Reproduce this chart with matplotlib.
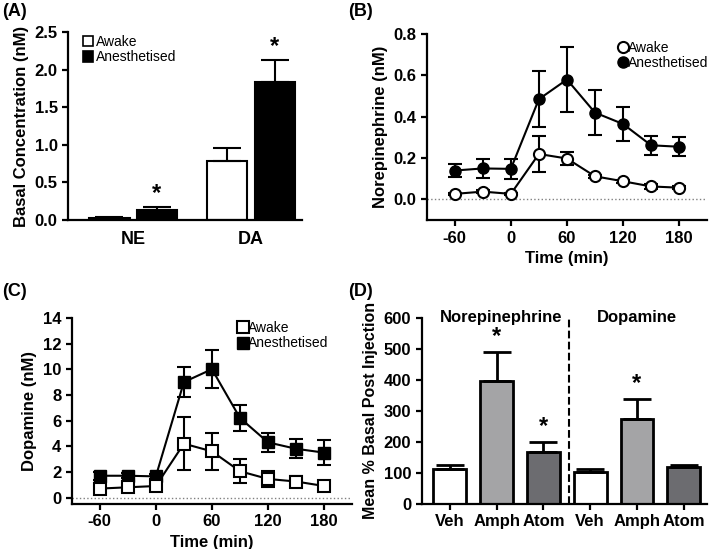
import numpy as np
import matplotlib.pyplot as plt
from matplotlib.lines import Line2D
from matplotlib.patches import Patch

plt.rcParams['font.family'] = ['Liberation Sans', 'DejaVu Sans']
plt.rcParams['font.weight'] = 'bold'
plt.rcParams['axes.labelweight'] = 'bold'
plt.rcParams['axes.unicode_minus'] = False
plt.rcParams['axes.linewidth'] = 1.6

# (A) basal concentrations
groups_a = ['NE', 'DA']
awake_a = [0.03, 0.79]
awake_a_err = [0.01, 0.17]
anest_a = [0.13, 1.83]
anest_a_err = [0.04, 0.29]

# (B), (C) time courses
times = [-60, -30, 0, 30, 60, 90, 120, 150, 180]
ne_awake = [0.027, 0.038, 0.027, 0.22, 0.198, 0.112, 0.088, 0.063, 0.057]
ne_awake_err = [0.005, 0.006, 0.005, 0.085, 0.033, 0.008, 0.007, 0.012, 0.006]
ne_anest = [0.14, 0.15, 0.148, 0.485, 0.58, 0.42, 0.365, 0.262, 0.255]
ne_anest_err = [0.03, 0.045, 0.047, 0.135, 0.155, 0.11, 0.083, 0.045, 0.047]

da_awake = [0.7, 0.8, 0.9, 4.2, 3.6, 2.05, 1.45, 1.25, 0.9]
da_awake_err = [0.2, 0.2, 0.2, 2.05, 1.45, 0.95, 0.6, 0.45, 0.15]
da_anest = [1.7, 1.7, 1.65, 9.0, 10.0, 6.2, 4.3, 3.8, 3.5]
da_anest_err = [0.3, 0.2, 0.2, 1.2, 1.5, 1.0, 0.75, 0.75, 0.95]

# (D) mean % basal post injection
drugs = ['Veh', 'Amph', 'Atom', 'Veh', 'Amph', 'Atom']
pct_basal = [113, 398, 167, 103, 273, 120]
pct_basal_err = [13, 92, 33, 9, 67, 7]
bar_colors = ['white', '#a4a4a6', '#6c6c70', 'white', '#a4a4a6', '#6c6c70']

fig = plt.figure(figsize=(7.1, 5.49), dpi=100)

def style(ax):
    ax.spines['top'].set_visible(False)
    ax.spines['right'].set_visible(False)
    ax.tick_params(width=1.6, length=4, labelsize=12)
    for t in ax.get_xticklabels() + ax.get_yticklabels():
        t.set_fontweight('bold')

leg_font = dict(weight='normal', size=10)

# ---- A ----
ax = fig.add_axes([0.096, 0.599, 0.329, 0.343])
x = np.arange(len(groups_a)) * 1.0
w = 0.34
ax.bar(x - w / 2 - 0.03, awake_a, w, color='white', edgecolor='black', lw=1.5,
       yerr=[[0, 0], awake_a_err], capsize=10, error_kw=dict(lw=1.5, capthick=1.5))
ax.bar(x + w / 2 + 0.03, anest_a, w, color='black', edgecolor='black', lw=1.5,
       yerr=[[0, 0], anest_a_err], capsize=10, error_kw=dict(lw=1.5, capthick=1.5))
for xi, v, e in zip(x + w / 2 + 0.03, anest_a, anest_a_err):
    ax.text(xi, v + e + 0.03, '*', ha='center', va='bottom', fontsize=17)
ax.set_xlim(-0.55, 1.43)
ax.set_ylim(0, 2.5)
ax.set_yticks([0, 0.5, 1.0, 1.5, 2.0, 2.5])
ax.set_yticklabels(['0.0', '0.5', '1.0', '1.5', '2.0', '2.5'])
ax.set_xticks(x)
ax.set_xticklabels(groups_a)
ax.set_ylabel('Basal Concentration (nM)', fontsize=12)
style(ax)
ax.tick_params(axis='x', length=0, pad=8, labelsize=13)
hs = [Patch(facecolor='white', edgecolor='black', lw=1.2),
      Patch(facecolor='black', edgecolor='black', lw=1.2)]
ax.legend(hs, ['Awake', 'Anesthetised'], loc='upper left', bbox_to_anchor=(0.01, 1.05),
          frameon=False, handlelength=0.7, handleheight=0.8, handletextpad=0.2,
          labelspacing=0.1, prop=leg_font)

# ---- B ----
ax = fig.add_axes([0.601, 0.599, 0.395, 0.339])
ax.axhline(0, color='gray', ls=':', lw=1)
ax.errorbar(times, ne_anest, yerr=ne_anest_err, color='black', marker='o', ms=8,
            mfc='black', lw=1.5, capsize=5, capthick=1.5)
ax.errorbar(times, ne_awake, yerr=ne_awake_err, color='black', marker='o', ms=8,
            mfc='white', mew=1.5, lw=1.5, capsize=5, capthick=1.5)
ax.set_xlim(-90, 210)
ax.set_ylim(-0.1, 0.8)
ax.set_xticks([-60, 0, 60, 120, 180])
ax.set_yticks([0, 0.2, 0.4, 0.6, 0.8])
ax.set_yticklabels(['0.0', '0.2', '0.4', '0.6', '0.8'])
ax.set_xlabel('Time (min)', fontsize=12)
ax.set_ylabel('Norepinephrine (nM)', fontsize=12)
style(ax)
hs = [Line2D([], [], ls='none', marker='o', ms=8, mfc='white', mec='black', mew=1.5),
      Line2D([], [], ls='none', marker='o', ms=8, mfc='black', mec='black')]
ax.legend(hs, ['Awake', 'Anesthetised'], loc='upper right', bbox_to_anchor=(1.05, 1.03),
          frameon=False, handlelength=0.5, handletextpad=0.15, labelspacing=0.1,
          prop=leg_font)

# ---- C ----
ax = fig.add_axes([0.101, 0.082, 0.395, 0.339])
ax.axhline(0, color='gray', ls=':', lw=1)
ax.errorbar(times, da_anest, yerr=da_anest_err, color='black', marker='s', ms=9,
            mfc='black', lw=1.5, capsize=5, capthick=1.5)
ax.errorbar(times, da_awake, yerr=da_awake_err, color='black', marker='s', ms=9,
            mfc='white', mew=1.5, lw=1.5, capsize=5, capthick=1.5)
ax.set_xlim(-90, 210)
ax.set_ylim(-0.5, 14)
ax.set_xticks([-60, 0, 60, 120, 180])
ax.set_yticks(range(0, 15, 2))
ax.set_xlabel('Time (min)', fontsize=12)
ax.set_ylabel('Dopamine (nM)', fontsize=12)
style(ax)
hs = [Line2D([], [], ls='none', marker='s', ms=9, mfc='white', mec='black', mew=1.5),
      Line2D([], [], ls='none', marker='s', ms=9, mfc='black', mec='black')]
ax.legend(hs, ['Awake', 'Anesthetised'], loc='upper right', bbox_to_anchor=(0.96, 1.05),
          frameon=False, handlelength=0.5, handletextpad=0.15, labelspacing=0.1,
          prop=leg_font)

# ---- D ----
ax = fig.add_axes([0.594, 0.082, 0.402, 0.339])
xd = np.arange(len(drugs))
ax.bar(xd, pct_basal, 0.7, color=bar_colors, edgecolor='black', lw=2,
       yerr=[[0] * len(xd), pct_basal_err], capsize=10,
       error_kw=dict(lw=2, capthick=2))
for i in [1, 2, 4]:
    ax.text(xd[i], pct_basal[i] + pct_basal_err[i] + 12, '*', ha='center',
            va='bottom', fontsize=17)
ax.axvline(2.55, color='black', ls='--', lw=1.5)
ax.text(1.1, 600, 'Norepinephrine', ha='center', va='center', fontsize=12)
ax.text(4.0, 600, 'Dopamine', ha='center', va='center', fontsize=12)
ax.set_xlim(-0.6, 5.5)
ax.set_ylim(0, 600)
ax.set_yticks(range(0, 601, 100))
ax.set_xticks(xd)
ax.set_xticklabels(drugs)
ax.set_ylabel('Mean % Basal Post Injection', fontsize=11.5)
style(ax)
ax.tick_params(axis='x', labelsize=12)

fig.text(0.003, 0.995, '(A)', fontsize=13, va='top', ha='left')
fig.text(0.49, 0.995, '(B)', fontsize=13, va='top', ha='left')
fig.text(0.003, 0.485, '(C)', fontsize=13, va='top', ha='left')
fig.text(0.49, 0.485, '(D)', fontsize=13, va='top', ha='left')

fig.savefig('out.png', dpi=100)
